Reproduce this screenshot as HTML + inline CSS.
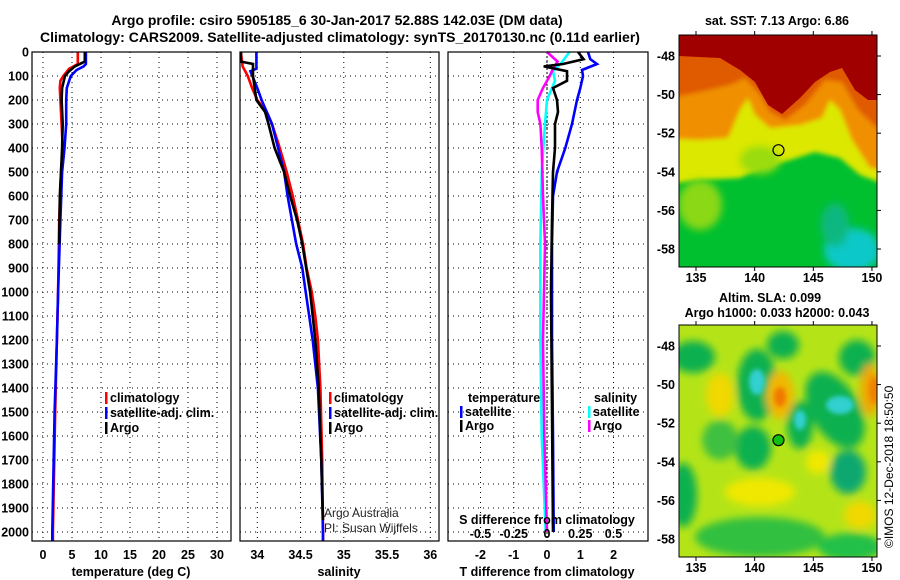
<!DOCTYPE html>
<html><head><meta charset="utf-8"><style>
html,body{margin:0;padding:0;background:#fff;}
svg{display:block;font-family:"Liberation Sans",sans-serif;}
.b{font-weight:bold;font-size:12.5px;}
</style></head><body>
<svg id="c" width="900" height="580" viewBox="0 0 900 580" xmlns="http://www.w3.org/2000/svg">
<defs>
<filter id="bl" x="-50%" y="-50%" width="200%" height="200%"><feGaussianBlur stdDeviation="4"/></filter>
<filter id="bl2" x="-50%" y="-50%" width="200%" height="200%"><feGaussianBlur stdDeviation="2.5"/></filter>
<clipPath id="m1"><rect x="679" y="35" width="198" height="232"/></clipPath>
<clipPath id="m2"><rect x="679" y="325" width="198" height="232"/></clipPath>
</defs>
<text x="337" y="25" text-anchor="middle" font-size="14" font-weight="bold">Argo profile: csiro 5905185_6 30-Jan-2017 52.88S 142.03E (DM data)</text>
<text x="340" y="42" text-anchor="middle" font-size="14" font-weight="bold">Climatology: CARS2009. Satellite-adjusted climatology: synTS_20170130.nc (0.11d earlier)</text>

<!-- top map: SST -->
<g clip-path="url(#m1)">
<rect x="679" y="35" width="198" height="232" fill="#00c030"/>
<g filter="url(#bl2)">
<path d="M660,185 L700,180 L740,178 L760,168 L790,160 L815,152 L840,158 L860,175 L900,190 L900,20 L660,20Z" fill="#dce800"/>
<path d="M660,138 L700,140 L728,138 L740,110 L748,98 L755,115 L770,128 L800,125 L822,118 L830,100 L840,110 L852,140 L870,168 L900,172 L900,20 L660,20Z" fill="#f09000"/>
<path d="M660,100 L700,92 L730,85 L745,78 L760,95 L770,112 L785,120 L805,105 L825,80 L842,82 L858,110 L877,128 L900,128 L900,20 L660,20Z" fill="#e05a00"/>
</g>
<path d="M679,56 L720,58 L740,70 L755,82 L768,105 L782,114 L800,98 L815,82 L830,72 L842,68 L855,90 L868,100 L877,100 L877,35 L679,35Z" fill="#a00000"/>
<g filter="url(#bl)">
<ellipse cx="700" cy="205" rx="22" ry="25" fill="#8ad818"/>
<ellipse cx="760" cy="160" rx="20" ry="14" fill="#9adc10"/>
<ellipse cx="852" cy="250" rx="28" ry="22" fill="#10c8c8"/>
<ellipse cx="835" cy="225" rx="14" ry="22" fill="#10b880"/>
</g>
</g>
<rect x="679" y="35" width="198" height="232" fill="none" stroke="#000"/>
<text x="777" y="25" text-anchor="middle" class="b">sat. SST: 7.13 Argo: 6.86</text>

<!-- bottom map: SLA -->
<g clip-path="url(#m2)">
<rect x="679" y="325" width="198" height="232" fill="#b4e418"/>
<g filter="url(#bl)">
<ellipse cx="693" cy="357" rx="22" ry="16" fill="#10b050"/>
<ellipse cx="783" cy="345" rx="16" ry="14" fill="#10b050"/>
<ellipse cx="857" cy="358" rx="18" ry="18" fill="#10b050"/>
<ellipse cx="757" cy="385" rx="20" ry="36" fill="#10b050"/>
<ellipse cx="835" cy="410" rx="24" ry="42" fill="#10b050" transform="rotate(-30 835 410)"/>
<ellipse cx="800" cy="425" rx="13" ry="24" fill="#10b050"/>
<ellipse cx="753" cy="448" rx="18" ry="22" fill="#10b050"/>
<ellipse cx="848" cy="472" rx="18" ry="22" fill="#10a870"/>
<ellipse cx="683" cy="495" rx="14" ry="32" fill="#10b050"/>
<ellipse cx="720" cy="440" rx="18" ry="20" fill="#40c040"/>
<ellipse cx="760" cy="537" rx="65" ry="20" fill="#30c040"/>
<ellipse cx="850" cy="547" rx="32" ry="14" fill="#20c048"/>
<ellipse cx="720" cy="395" rx="14" ry="22" fill="#f0d800"/>
<ellipse cx="780" cy="395" rx="14" ry="24" fill="#f0b800"/>
<ellipse cx="870" cy="390" rx="10" ry="26" fill="#f0a800"/>
<ellipse cx="760" cy="492" rx="35" ry="14" fill="#f0e800"/>
<ellipse cx="860" cy="515" rx="16" ry="14" fill="#f0d800"/>
<ellipse cx="818" cy="462" rx="12" ry="12" fill="#f0e800"/>
</g>
<g filter="url(#bl2)">
<ellipse cx="757" cy="382" rx="8" ry="13" fill="#30d0d0"/>
<ellipse cx="840" cy="405" rx="14" ry="9" fill="#30d0d0"/>
<ellipse cx="800" cy="420" rx="6" ry="10" fill="#30d0d0"/>
<ellipse cx="780" cy="397" rx="6" ry="10" fill="#f07800"/>
<ellipse cx="874" cy="390" rx="5" ry="14" fill="#f08000"/>
</g>
</g>
<rect x="679" y="325" width="198" height="232" fill="none" stroke="#000"/>
<text x="770" y="302" text-anchor="middle" class="b">Altim. SLA: 0.099</text>
<text x="777" y="317" text-anchor="middle" class="b">Argo h1000: 0.033 h2000: 0.043</text>
<text transform="translate(893,548) rotate(-90)" font-size="12">©IMOS 12-Dec-2018 18:50:50</text>

<g id="plots"></g>
</svg>
<script>
// ---- data ----
const depthLabels = [0,100,200,300,400,500,600,700,800,900,1000,1100,1200,1300,1400,1500,1600,1700,1800,1900,2000];
const tempTicks = [0,5,10,15,20,25,30];
const salTicks = [34,34.5,35,35.5,36];
const salTickLabels = ["34","34.5","35","35.5","36"];
const tdiffTicks = [-2,-1,0,1,2];
const sdiffTicks = [-0.5,-0.25,0,0.25,0.5];
const sdiffTickLabels = ["-0.5","-0.25","0","0.25","0.5"];
const lonTicks = [135,140,145,150];
const latTicks = [-48,-50,-52,-54,-56,-58];

// temperature profiles
const tClimD = [0,50,70,100,120,150,200,300,400,500,700,1000,1200,1500,2000,2037];
const tClimV = [6.0,6.0,4.5,3.5,3.0,2.9,3.0,3.2,3.4,3.1,2.8,2.6,2.4,2.1,1.7,1.7];
const tSatD = [0,50,60,75,100,150,200,300,400,500,700,1000,1200,1500,2000,2037];
const tSatV = [7.4,7.4,7.0,5.8,4.8,4.1,4.0,4.0,3.7,3.3,3.0,2.6,2.4,2.0,1.6,1.6];
const tArgoD = [0,40,60,80,100,150,200,300,400,500,600,800];
const tArgoV = [7.2,7.2,5.5,4.5,3.8,3.3,3.2,3.4,3.3,3.1,2.9,2.8];
// salinity profiles
const sClimD = [0,60,100,150,200,250,300,400,500,600,700,800,900,1000,1100,1200,1400,1700,2000,2037];
const sClimV = [33.81,33.83,33.89,33.94,34.0,34.11,34.17,34.26,34.34,34.41,34.47,34.53,34.57,34.63,34.67,34.70,34.73,34.75,34.76,34.76];
const sSatD = [0,70,80,150,200,300,400,500,600,700,800,900,1000,1200,1400,1700,2000,2037];
const sSatV = [33.99,33.99,33.92,34.0,34.05,34.17,34.24,34.31,34.35,34.40,34.45,34.52,34.56,34.64,34.70,34.74,34.76,34.76];
const sArgoD = [0,40,50,100,200,230,250,300,400,500,600,700,800,1000,1200,1400,1700,1950];
const sArgoV = [33.81,33.81,33.95,33.95,33.99,34.05,34.09,34.13,34.20,34.31,34.38,34.46,34.52,34.61,34.67,34.71,34.74,34.76];
// difference profiles
const dTsatD = [0,30,50,75,100,150,200,300,400,500,600,800,1200,1600,2000];
const dTsatV = [1.23,1.3,1.5,1.05,1.08,1.0,0.9,0.75,0.55,0.3,0.18,0.15,0.15,0.18,0.2];
const dTargoD = [0,30,50,60,80,120,150,200,250,300,400,500,700,1000,1500,2000];
const dTargoV = [0.93,1.1,0.48,-0.1,0.6,0.6,0.18,0.3,0.33,0.24,0.24,0.18,0.15,0.12,0.15,0.18];
const dSargoD = [0,40,70,100,150,200,250,300,400,600,800,1200,1600,2000];
const dSargoV = [0,0.08,0.045,0.02,-0.03,-0.07,-0.07,-0.05,-0.04,-0.03,-0.015,-0.03,-0.02,0];
const dSsatD = [0,50,80,120,200,300,500,800,1200,1600,2000];
const dSsatV = [0.17,0.1,0.045,0.06,0,-0.015,-0.04,-0.05,-0.05,-0.04,-0.01];
// float position
const floatLon = [142.03];
const floatLat = [-52.88];

// ---- axes ----
const Y0 = 52, YB = 541;
const yD = d => Y0 + d * 0.24;
const xT = t => 43 + t * 5.8;
const xS = s => 240 + (s - 33.8) * 86.5;
const xDT = t => 547 + t * 33.3;
const xDS = s => 547 + s * 133;
const xLon = l => 679 + (l - 133.55) * 11.73;
const yLat1 = l => 56 + (-48 - l) * 19.3;
const yLat2 = l => 346 + (-48 - l) * 19.3;

const NS = "http://www.w3.org/2000/svg";
const root = document.getElementById('plots');
function mk(tag, attrs, parent) {
  const e = document.createElementNS(NS, tag);
  for (const k in attrs) e.setAttribute(k, attrs[k]);
  (parent || root).appendChild(e);
  return e;
}
function txt(x, y, s, anchor, cls) {
  const e = mk('text', {x: x, y: y, 'text-anchor': anchor || 'middle', class: cls || 'b'});
  e.textContent = s;
  return e;
}

const panels = [
  {l: 32, r: 231, name: 'temperature-panel'},
  {l: 240, r: 439, name: 'salinity-panel'},
  {l: 448, r: 648, name: 'difference-panel'}
];
panels.forEach(p => {
  const g = mk('g', {});
  
  
  p.g = g;
  depthLabels.forEach(d => {
    const gl = mk('line', {x1: p.l, x2: p.r, y1: yD(d), y2: yD(d), stroke: '#000', 'stroke-dasharray': '1,4'}, g);
    
    
  });
});
tempTicks.forEach(t => {
  const l = mk('line', {x1: xT(t), x2: xT(t), y1: Y0, y2: YB, stroke: '#000', 'stroke-dasharray': '1,4'}, panels[0].g);
  
  
  const tl = txt(xT(t), 559, String(t));
  
  
});
salTicks.forEach((s, i) => {
  const l = mk('line', {x1: xS(s), x2: xS(s), y1: Y0, y2: YB, stroke: '#000', 'stroke-dasharray': '1,4'}, panels[1].g);
  
  
  const tl = txt(xS(s), 559, salTickLabels[i]);
  
  
});
sdiffTicks.forEach((s, i) => {
  const l = mk('line', {x1: xDS(s), x2: xDS(s), y1: Y0, y2: YB, stroke: '#000', 'stroke-dasharray': '1,4'}, panels[2].g);
  
  
  const tl = txt(xDS(s), 538, sdiffTickLabels[i]);
  
  
});
tdiffTicks.forEach(t => {
  const tl = txt(xDT(t), 559, String(t));
  
  
});
depthLabels.forEach(d => {
  const tl = txt(29, yD(d) + 4.5, String(d), 'end');
  
  
});
[[131, 'temperature (deg C)', 'temperature-axis-title'], [339, 'salinity', 'salinity-axis-title'], [547, 'T difference from climatology', 'tdiff-axis-title']].forEach(a => {
  const t = txt(a[0], 576, a[1]);
  
  
});
const st = txt(547, 524, 'S difference from climatology');



function series(D, V, xf, color, name, g, w) {
  const pts = D.map((d, i) => xf(V[i]).toFixed(1) + ',' + yD(d).toFixed(1)).join(' ');
  const pl = mk('polyline', {points: pts, fill: 'none', stroke: color, 'stroke-width': w || 2.6, 'stroke-linejoin': 'miter'}, g);
  
  
}
series(tClimD, tClimV, xT, '#f00', 'temperature-climatology-line', panels[0].g);
series(tSatD, tSatV, xT, '#00f', 'temperature-satellite-line', panels[0].g);
series(tArgoD, tArgoV, xT, '#000', 'temperature-argo-line', panels[0].g);
series(sClimD, sClimV, xS, '#f00', 'salinity-climatology-line', panels[1].g);
series(sSatD, sSatV, xS, '#00f', 'salinity-satellite-line', panels[1].g);
series(sArgoD, sArgoV, xS, '#000', 'salinity-argo-line', panels[1].g);
const z = mk('line', {x1: xDT(0), x2: xDT(0), y1: Y0, y2: YB, stroke: '#000', 'stroke-dasharray': '2,2'}, panels[2].g);


series(dSsatD, dSsatV, xDS, '#0ff', 'sdiff-satellite-line', panels[2].g);
series(dSargoD, dSargoV, xDS, '#f0f', 'sdiff-argo-line', panels[2].g);
series(dTsatD, dTsatV, xDT, '#00f', 'tdiff-satellite-line', panels[2].g);
series(dTargoD, dTargoV, xDT, '#000', 'tdiff-argo-line', panels[2].g);

panels.forEach(p => {
  const f = mk('rect', {x: p.l, y: Y0, width: p.r - p.l, height: YB - Y0, fill: 'none', stroke: '#000', 'stroke-width': 1.2}, p.g);
  
  
});

function legend(x, y, color, label) {
  const g = mk('g', {});
  
  
  mk('rect', {x: x, y: y - 10, width: 2.5, height: 12, fill: color}, g);
  const t = mk('text', {x: x + 5, y: y, class: 'b'}, g);
  t.textContent = label;
}
legend(105, 402, '#f00', 'climatology');
legend(105, 417, '#00f', 'satellite-adj. clim.');
legend(105, 432, '#000', 'Argo');
legend(329, 402, '#f00', 'climatology');
legend(329, 417, '#00f', 'satellite-adj. clim.');
legend(329, 432, '#000', 'Argo');
const lt = txt(468, 402, 'temperature', 'start');


legend(460, 416, '#00f', 'satellite');
legend(460, 430, '#000', 'Argo');
const ls = txt(594, 402, 'salinity', 'start');


legend(588, 416, '#0ff', 'satellite');
legend(588, 430, '#f0f', 'Argo');
const c1 = mk('text', {x: 324, y: 517, 'font-size': 12, fill: '#222'});
c1.textContent = 'Argo Australia';


const c2 = mk('text', {x: 324, y: 532, 'font-size': 12, fill: '#222'});
c2.textContent = 'PI: Susan Wijffels';



[[35, 267, yLat1, 282], [325, 557, yLat2, 572]].forEach((m, mi) => {
  lonTicks.forEach(l => {
    const x = xLon(l);
    mk('line', {x1: x, x2: x, y1: m[0] - 4, y2: m[0], stroke: '#000'});
    mk('line', {x1: x, x2: x, y1: m[1], y2: m[1] + 4, stroke: '#000'});
    const t = txt(x, m[3], String(l));
    
    
  });
  latTicks.forEach(l => {
    const y = m[2](l);
    mk('line', {x1: 877, x2: 881, y1: y, y2: y, stroke: '#000'});
    const t = txt(675, y + 4.5, String(l), 'end');
    
    
  });
  const c = mk('circle', {cx: xLon(floatLon[0]), cy: m[2](floatLat[0]), r: 5.5, fill: mi ? '#10c010' : 'none', stroke: '#000', 'stroke-width': 1.2});
  
  
});
</script>
</body></html>
